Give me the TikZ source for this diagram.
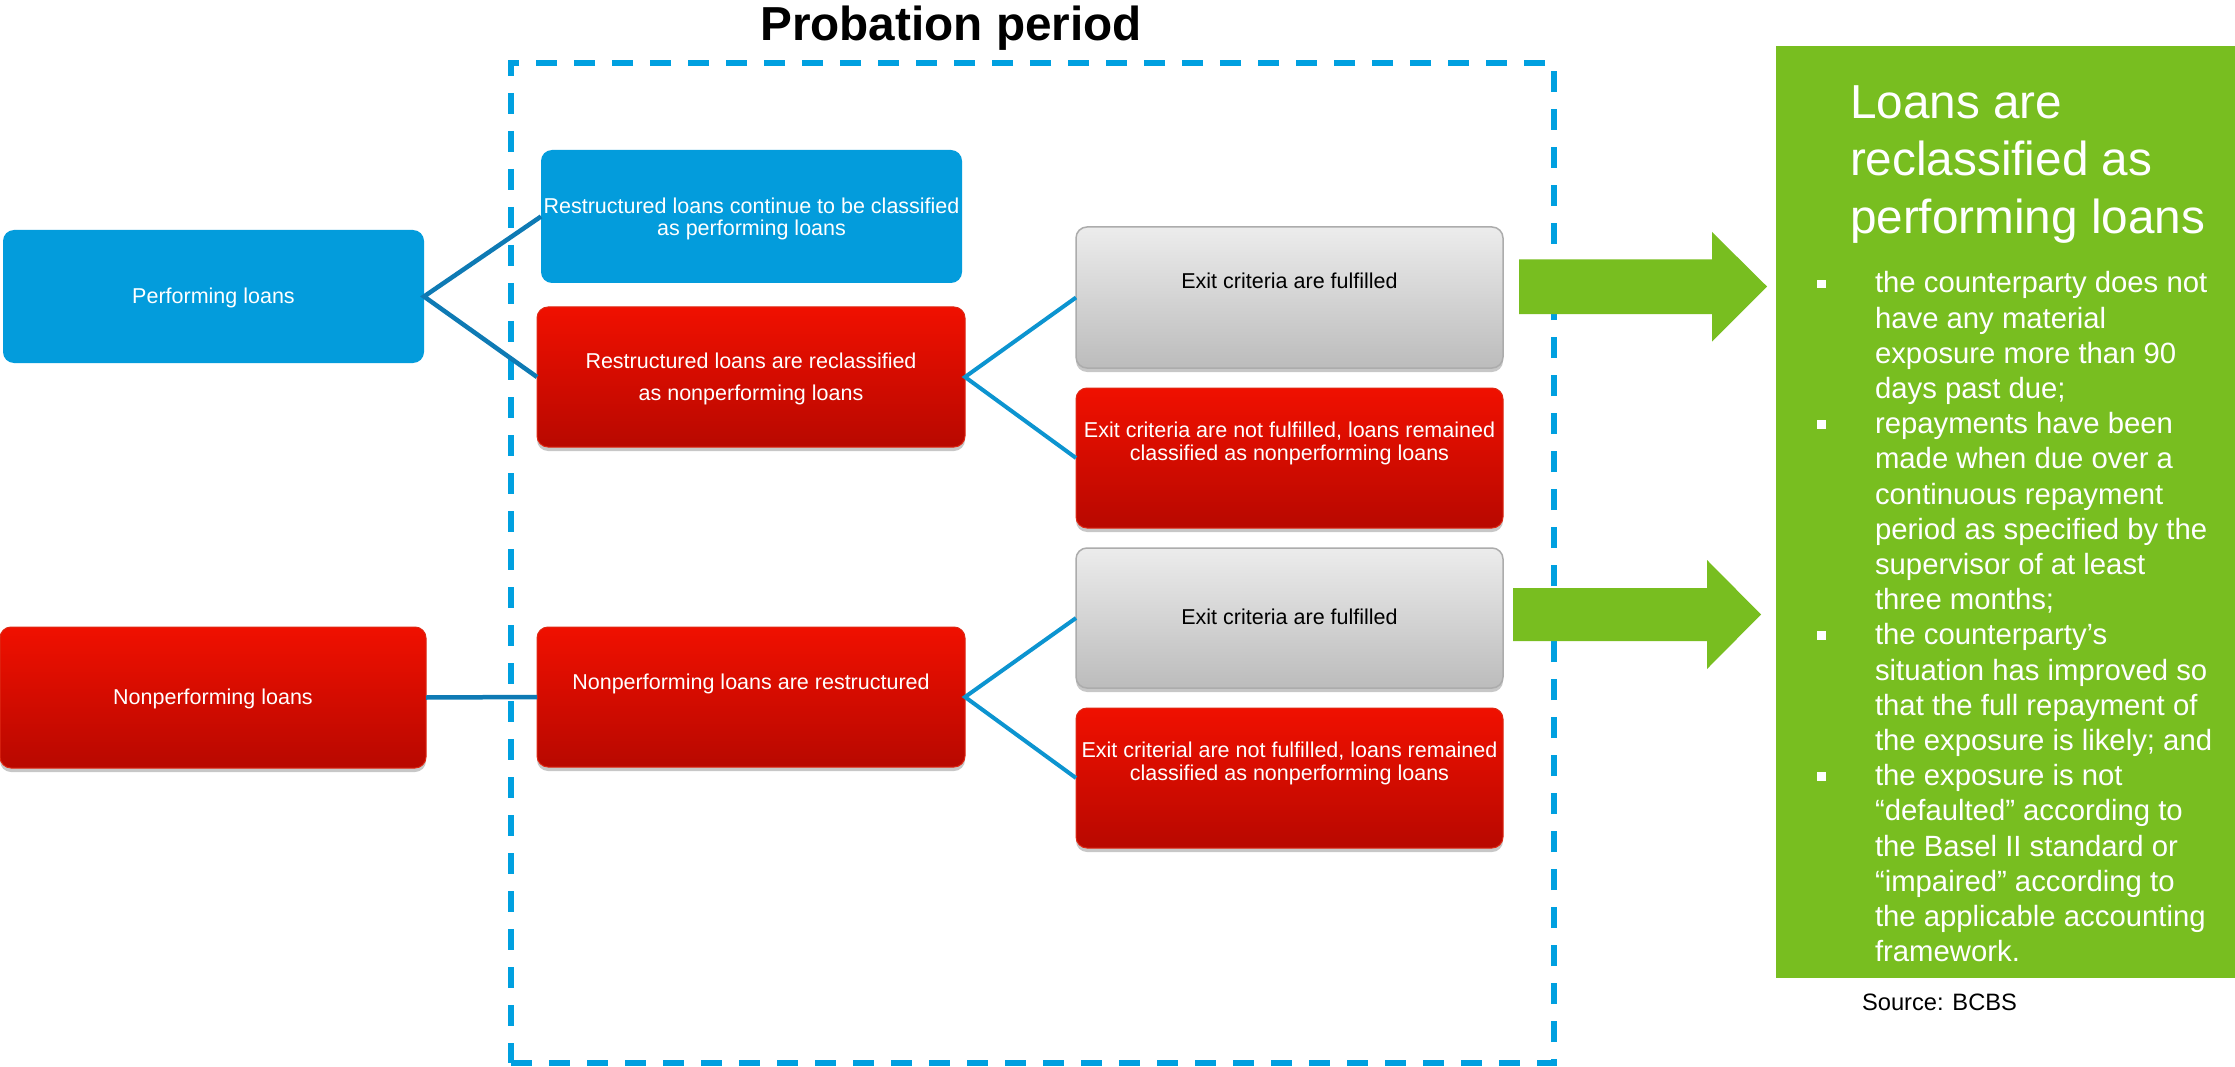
\documentclass[tikz,border=0pt]{standalone}
\usepackage{fontspec}
\setmainfont{Liberation Sans}
\usetikzlibrary{shadows}

\definecolor{boxblue}{RGB}{3,156,220}
\definecolor{redtop}{RGB}{240,16,0}
\definecolor{redbot}{RGB}{184,8,0}
\definecolor{redline}{RGB}{222,40,20}
\definecolor{graytop}{RGB}{236,236,236}
\definecolor{graybot}{RGB}{188,188,188}
\definecolor{grayline}{RGB}{172,172,172}
\definecolor{linkdark}{RGB}{14,122,180}
\definecolor{linklight}{RGB}{12,148,208}
\definecolor{probblue}{RGB}{0,160,224}
\definecolor{okgreen}{RGB}{120,190,32}

% text block of a box: raise (baseline of last line vs. box centre), leading, lines
\newcommand{\boxtext}[3]{\raisebox{#1}[0pt][0pt]{\fontsize{21.5}{#2}\selectfont\begin{tabular}[b]{@{}c@{}}#3\end{tabular}}}
\newcommand{\sqbullet}{\rule[5pt]{8.5pt}{8.5pt}}

\begin{document}
\begin{tikzpicture}[x=1pt, y=-1pt,
  card/.style={rounded corners=11pt, inner sep=0pt, outer sep=0pt},
  bluecard/.style={card, fill=boxblue, text=white},
  redcard/.style={card, top color=redtop, bottom color=redbot, draw=redline, line width=1pt, text=white,
    drop shadow={shadow xshift=0pt, shadow yshift=-4pt, opacity=0.22, fill=black}},
  graycard/.style={card, top color=graytop, bottom color=graybot, draw=grayline, line width=1.5pt, text=black,
    drop shadow={shadow xshift=0pt, shadow yshift=-4pt, opacity=0.22, fill=black}},
  linkA/.style={draw=linkdark, line width=4.5pt, line join=miter},
  linkB/.style={draw=linklight, line width=4pt, line join=miter},
  blockarrow/.style={fill=okgreen},
  plain/.style={inner sep=0pt, outer sep=0pt}]

\useasboundingbox (0,0) rectangle (2235,1067);
\fill[white] (0,0) rectangle (2235,1067);

% probation frame and its heading
\node[plain, draw=probblue, line width=5.3pt, dash pattern=on 21pt off 17pt,
  minimum width=1043pt, minimum height=1000pt] (probation) at (1032.5,563) {};
\node[plain, anchor=base, font=\fontsize{47.7}{50}\selectfont\bfseries] (probtitle) at (951,41) {Probation period};

% starting states
\node[bluecard, minimum width=421pt, minimum height=133pt] (perf) at (213.5,296.5)
  {\boxtext{-7pt}{22}{Performing loans}};
\node[redcard, minimum width=426pt, minimum height=141pt] (np) at (213,697.5)
  {\boxtext{-6.5pt}{22}{Nonperforming loans}};

% restructuring outcomes
\node[bluecard, minimum width=421pt, minimum height=133pt] (cont) at (751.5,216.5)
  {\boxtext{-19pt}{21}{Restructured loans continue to be classified\\as performing loans}};
\node[redcard, minimum width=428pt, minimum height=140pt] (recl) at (751,377)
  {\boxtext{-23pt}{31.6}{Restructured loans are reclassified\\as nonperforming loans}};
\node[redcard, minimum width=428pt, minimum height=140pt] (npr) at (751,697)
  {\boxtext{8pt}{22}{Nonperforming loans are restructured}};

% exit criteria
\node[graycard, minimum width=427pt, minimum height=141pt] (ex1) at (1289.5,297.5)
  {\boxtext{8.5pt}{22}{Exit criteria are fulfilled}};
\node[redcard, minimum width=427pt, minimum height=140pt] (nx1) at (1289.5,458)
  {\boxtext{-2pt}{22.5}{Exit criteria are not fulfilled, loans remained\\classified as nonperforming loans}};
\node[graycard, minimum width=427pt, minimum height=140pt] (ex2) at (1289.5,618)
  {\boxtext{-6pt}{22}{Exit criteria are fulfilled}};
\node[redcard, minimum width=427pt, minimum height=140pt] (nx2) at (1289.5,778)
  {\boxtext{-2pt}{22.5}{Exit criterial are not fulfilled, loans remained\\classified as nonperforming loans}};

% connectors
\draw[linkA] (cont.west) -- (perf.east) -- (recl.west);
\draw[linkA] (np.east) -- (npr.west);
\draw[linkB] (ex1.west) -- (recl.east) -- (nx1.west);
\draw[linkB] (ex2.west) -- (npr.east) -- (nx2.west);

% reclassification panel
\node[plain, fill=okgreen, minimum width=459pt, minimum height=932pt] (critbox) at (2005.5,512) {};
\node[plain, anchor=base west, text=white] (crithead) at (1850,118.5)
  {\fontsize{47.7}{57.5}\selectfont\begin{tabular}[t]{@{}l@{}}Loans are\\reclassified as\\performing loans\end{tabular}};
\node[plain, anchor=base west, text=white] (critlist) at (1817,293)
  {\fontsize{29.3}{35.2}\selectfont\begin{tabular}[t]{@{}l@{\hspace{49.5pt}}l@{}}
  \sqbullet & the counterparty does not\\
   & have any material\\
   & exposure more than 90\\
   & days past due;\\
  \sqbullet & repayments have been\\
   & made when due over a\\
   & continuous repayment\\
   & period as specified by the\\
   & supervisor of at least\\
   & three months;\\
  \sqbullet & the counterparty’s\\
   & situation has improved so\\
   & that the full repayment of\\
   & the exposure is likely; and\\
  \sqbullet & the exposure is not\\
   & “defaulted” according to\\
   & the Basel II standard or\\
   & “impaired” according to\\
   & the applicable accounting\\
   & framework.
  \end{tabular}};
\node[plain, anchor=base west, font=\fontsize{23.7}{28}\selectfont] (src) at (1862,1010) {Source: BCBS};

% block arrows into the panel
\fill[blockarrow] (1519,259.5) -- (1712,259.5) -- (1712,232) -- (1767,286.5) -- (1712,341.5) -- (1712,314) -- (1519,314) -- cycle;
\fill[blockarrow] (1513,588) -- (1707,588) -- (1707,560) -- (1761,614.5) -- (1707,669) -- (1707,641) -- (1513,641) -- cycle;

\end{tikzpicture}
\end{document}
